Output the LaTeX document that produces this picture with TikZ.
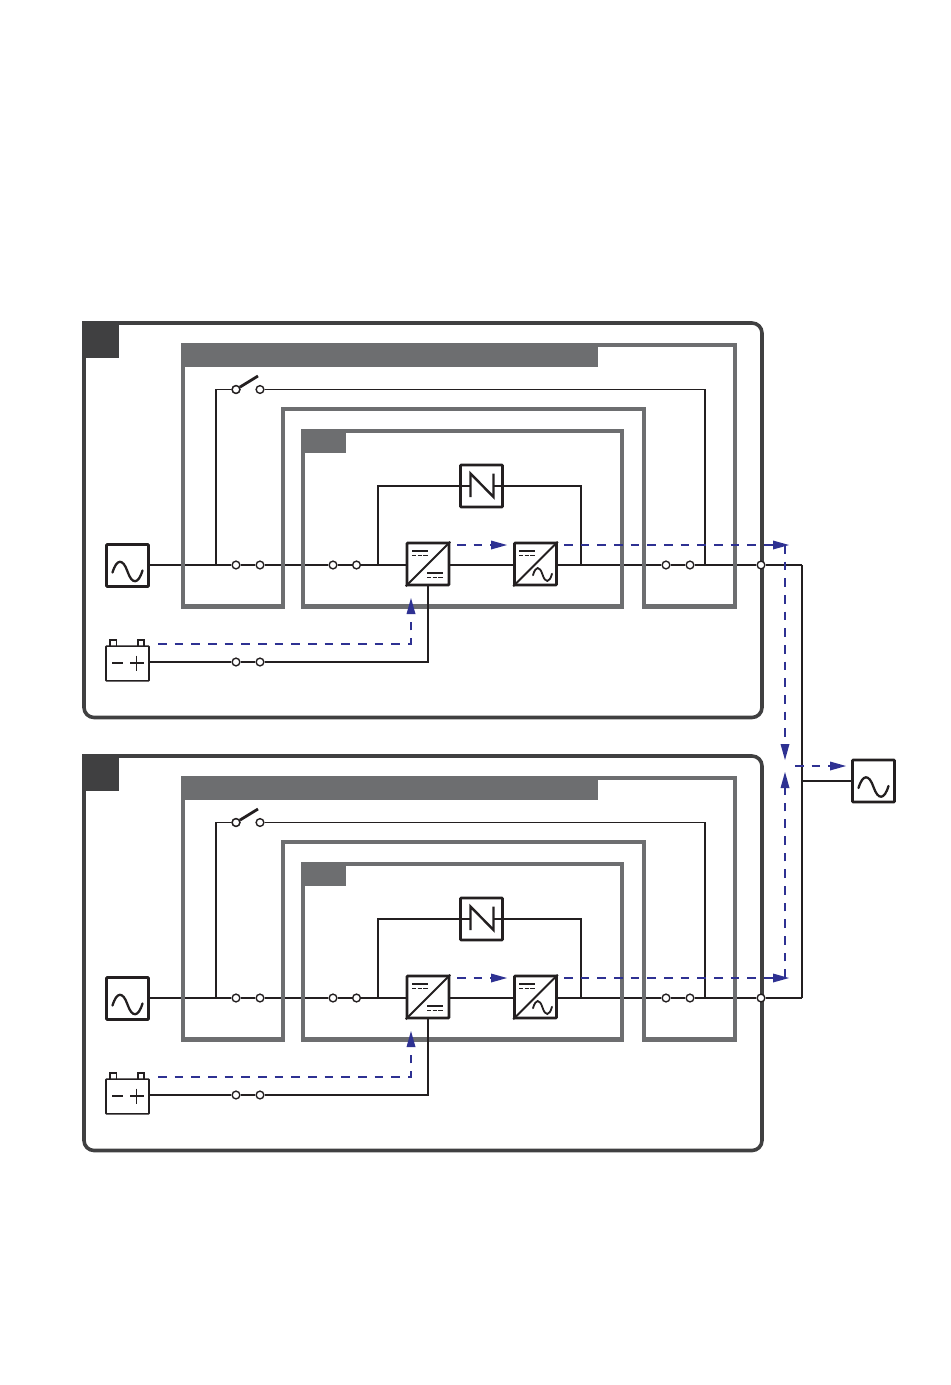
\documentclass[tikz,border=0pt]{standalone}
\definecolor{outerc}{HTML}{404041}
\definecolor{framec}{HTML}{6D6E70}
\definecolor{flowc}{HTML}{2E3192}
\definecolor{inkc}{HTML}{231F20}
\tikzset{
  x=0.75pt,y=-0.75pt,
  wire/.style={draw=inkc,line width=1.2pt},
  frameline/.style={draw=framec,line width=3.7pt,miter limit=10},
  framebar/.style={fill=framec,draw=none,inner sep=0pt},
  symbox/.style={draw=inkc,line width=2pt,fill=white,rounded corners=0.6pt,inner sep=0pt,minimum size=31.5pt,anchor=center},
  batbox/.style={draw=inkc,line width=1.2pt,fill=white,rounded corners=0.4pt,inner sep=0pt,minimum width=32.2pt,minimum height=26pt},
  term/.style={circle,draw=inkc,line width=1.05pt,fill=white,inner sep=0pt,minimum size=5.8pt},
  flow/.style={draw=flowc,line width=1.25pt,dash pattern=on 6.6pt off 5.9pt},
  blade/.style={draw=inkc,line width=2.1pt},
  glyph/.style={draw=inkc,line width=1.1pt},
}
% sine glyph: [width] centre x, centre y, half width, half height
\newcommand{\sinewave}[5][1.7pt]{%
  \draw[inkc,line width=#1,line cap=round] (#2-#4,#3+0.1*#5)
   .. controls (#2-0.72*#4,#3-1.25*#5) and (#2-0.3*#4,#3-1.25*#5) .. (#2,#3)
   .. controls (#2+0.3*#4,#3+1.25*#5) and (#2+0.72*#4,#3+1.25*#5) .. (#2+#4,#3-0.1*#5);}
% arrow heads by direction, given the tip
\newcommand{\headright}[2]{\fill[flowc] (#1,#2) -- (#1-16,#2-4.5) -- (#1-16,#2+4.5) -- cycle;}
\newcommand{\headup}[2]{\fill[flowc] (#1,#2) -- (#1-4.5,#2+16) -- (#1+4.5,#2+16) -- cycle;}
\newcommand{\headdown}[2]{\fill[flowc] (#1,#2) -- (#1-4.5,#2-16) -- (#1+4.5,#2-16) -- cycle;}
% closed switch: prefix, x1, x2, y
\newcommand{\closedsw}[4]{%
  \node[term] (#1a) at (#2,#4) {};
  \node[term] (#1b) at (#3,#4) {};
  \draw[blade] (#1a) -- (#1b);}
\newcommand{\dcmarks}[2]{% x y
  \draw[glyph] (#1,#2) -- ++(16,0);
  \draw[glyph,dash pattern=on 3.2pt off 1.1pt] (#1,#2+4.6) -- ++(16,0);}
\newcommand{\upsmodule}[2]{%
\begin{scope}[shift={(0,#2)}]
  % outer enclosure
  \draw[outerc,line width=2.7pt,rounded corners=7.5pt] (84,345) -- (84,323) -- (762,323) -- (762,717.5) -- (84,717.5) -- cycle;
  \node[fill=outerc,inner sep=0pt,minimum width=27.4pt,minimum height=27.4pt] (#1tab) at (100.75,339.75) {};
  % wiring
  \node[symbox] (#1src) at (127.5,565.5) {};
  \node[symbox] (#1rec) at (428,564) {};
  \node[symbox] (#1inv) at (535.5,564) {};
  \node[symbox] (#1sta) at (481.5,486) {};
  \node[batbox] (#1bat) at (127.5,663.5) {};
  \coordinate (#1bj) at (216,565);
  \coordinate (#1bk) at (705,565);
  \coordinate (#1sj) at (378,565);
  \coordinate (#1sk) at (581,565);
  \coordinate (#1bus) at (802,565);
  \closedsw{#1s1}{236}{260}{565}
  \closedsw{#1s2}{333}{356.5}{565}
  \closedsw{#1s3}{666}{690}{565}
  \closedsw{#1s4}{236}{260}{662}
  \node[term] (#1q1) at (236,389.5) {};
  \node[term] (#1q2) at (260,389.5) {};
  \node[term] (#1out) at (761,565) {};
  \draw[wire] (#1src.east|-#1bj) -- (#1s1a);
  \draw[wire] (#1s1b) -- (#1s2a);
  \draw[wire] (#1s2b) -- (#1rec.west|-#1sj);
  \draw[wire] (#1rec.east|-#1sj) -- (#1inv.west|-#1sj);
  \draw[wire] (#1inv.east|-#1sj) -- (#1s3a);
  \draw[wire] (#1s3b) -- (#1out);
  \draw[wire] (#1out) -- (#1bus);
  \draw[wire] (#1bj) -- (216,389.5) -- (#1q1);
  \draw[wire] (#1q2) -- (705,389.5) -- (#1bk);
  \draw[wire] (#1sj) -- (378,486) -- (#1sta.west);
  \draw[wire] (#1sta.east) -- (581,486) -- (#1sk);
  \draw[wire] (#1bat.east|-#1s4a) -- (#1s4a);
  \draw[blade] (#1q1) -- (258,376);
  \node[term] at (#1q1) {};
  % source glyph
  \sinewave{127.5}{571.5}{15}{10.5}
  % static switch glyph
  \draw[inkc,line width=1.8pt] (470.5,497) -- (470.5,473.5) -- (493.5,497) -- (493.5,473.5);
  \draw[wire] (#1sta.west) -- (470.5,486);
  \draw[wire] (493.5,486) -- (#1sta.east);
  % converter glyphs
  \draw[inkc,line width=1.4pt] (#1rec.south west) -- (#1rec.north east);
  \dcmarks{412}{551}
  \dcmarks{427}{573}
  \draw[inkc,line width=1.4pt] (#1inv.south west) -- (#1inv.north east);
  \dcmarks{519}{551}
  \sinewave[1.35pt]{542.5}{574.5}{9.5}{7}
  % battery glyph
  \draw[inkc,line width=1.2pt] (110,646) -- (110,640) -- (116.5,640) -- (116.5,646);
  \draw[inkc,line width=1.2pt] (138,646) -- (138,640) -- (144,640) -- (144,646);
  \draw[inkc,line width=1.2pt] (112,663) -- (123,663);
  \draw[inkc,line width=1.2pt] (130,663) -- (144,663) (136.5,655.5) -- (136.5,670.5);
  % grey frames
  \draw[frameline] (183,345) -- (735,345) -- (735,606.5) -- (644,606.5) -- (644,409) -- (283,409) -- (283,606.5) -- (183,606.5) -- cycle;
  \draw[frameline] (303,431) rectangle (622,606.5);
  \node[framebar,minimum width=312.8pt,minimum height=17.6pt,anchor=north west] (#1hd) at (181,343) {};
  \node[framebar,minimum width=33.8pt,minimum height=18pt,anchor=north west] (#1hc) at (301,429) {};
  % battery feed runs over the frame
  \draw[wire] (#1s4b) -- (428,662) -- (#1rec.south);
  % energy flow
  \draw[flow] (158,644) -- (411,644) -- (411,612);
  \headup{411}{598}
  \draw[flow] (457,545) -- (495,545);
  \headright{507}{545}
  \draw[flow] (564,545) -- (775,545);
  \headright{789}{545}
\end{scope}}
\begin{document}
\begin{tikzpicture}
\useasboundingbox (0,0) rectangle (950,1385);
\upsmodule{u}{0}
\upsmodule{l}{433}
\coordinate (busjoin) at (802,781);
\node[symbox] (load) at (873.5,781) {};
\draw[wire] (ubus) -- (lbus);
\draw[wire] (busjoin) -- (load.west);
\sinewave{873.5}{787}{15}{10.5}
\coordinate (flowtop) at (785,545);
\coordinate (flowbot) at (785,978);
\coordinate (flowout) at (795,766);
\draw[flow] (flowtop) -- (785,745);
\headdown{785}{760}
\draw[flow] (flowbot) -- (785,787);
\headup{785}{772}
\draw[flow] (flowout) -- (832,766);
\headright{846}{766}
\end{tikzpicture}
\end{document}
